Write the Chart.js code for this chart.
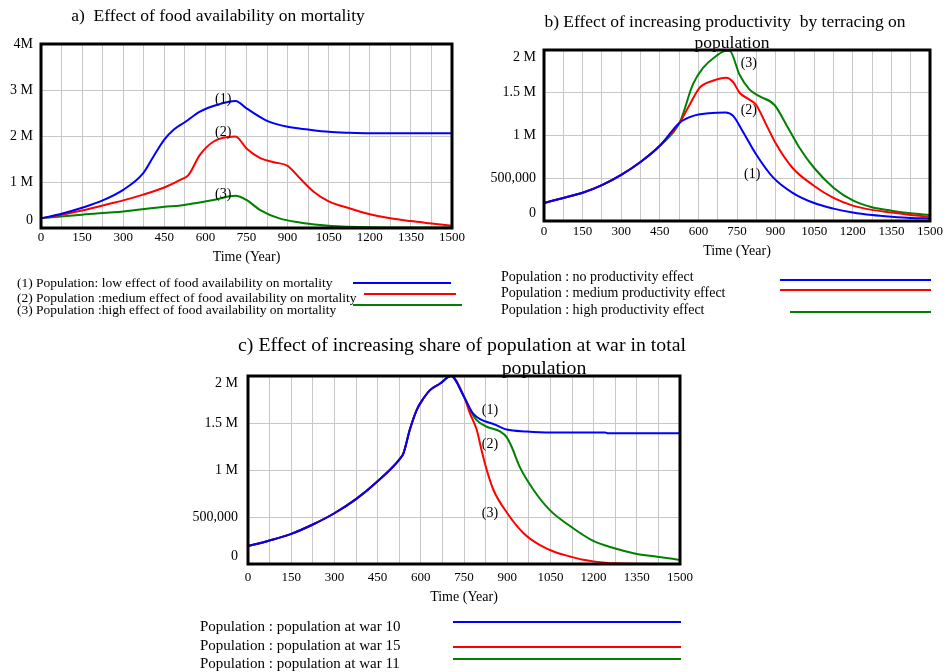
<!DOCTYPE html>
<html>
<head>
<meta charset="utf-8">
<script src="https://cdn.jsdelivr.net/npm/chart.js@4"></script>
<style>
  body { margin: 0; background: #fff; }
  #page { position: relative; width: 946px; height: 672px; overflow: hidden; color: #000;
          font-family: "Liberation Serif", "Times New Roman", serif; }
  #page canvas { position: absolute; left: 0; top: 0; }
  .txt { position: absolute; white-space: pre; }
  .ttl { position: absolute; white-space: pre; text-align: center; width: 600px; }
  .key { position: absolute; height: 2px; }
</style>
</head>
<body>
<div id="page">
  <canvas id="chartA" width="946" height="672"></canvas>
  <canvas id="chartB" width="946" height="672"></canvas>
  <canvas id="chartC" width="946" height="672"></canvas>
</div>
<script>
// time axis: grid line every 75 years, label every 150
const timeGrid = [0, 75, 150, 225, 300, 375, 450, 525, 600, 675, 750, 825, 900, 975, 1050, 1125, 1200, 1275, 1350, 1425, 1500];
const timeLabels = [0, 150, 300, 450, 600, 750, 900, 1050, 1200, 1350, 1500];
const colors = ['#0000ff', '#ff0000', '#008000'];

// a) Effect of food availability on mortality (population, millions)
const yTicksA = [0, 1, 2, 3, 4];
const yLabelsA = ['0', '1 M', '2 M', '3 M', '4M'];
const namesA = [
  '(1) Population: low effect of food availability on mortality',
  '(2) Population :medium effect of food availability on mortality',
  '(3) Population :high effect of food availability on mortality'
];
const timeA1 = [0, 75, 150, 225, 300, 370, 410, 450, 485, 525, 580, 650, 710, 750, 825, 900, 975, 1050, 1125, 1200, 1350, 1500];
const popA1 = [0.21, 0.31, 0.44, 0.60, 0.83, 1.17, 1.55, 1.92, 2.14, 2.30, 2.53, 2.69, 2.76, 2.60, 2.33, 2.20, 2.14, 2.09, 2.07, 2.06, 2.06, 2.06];
const timeA2 = [0, 75, 150, 225, 300, 370, 450, 510, 538, 580, 630, 680, 710, 750, 800, 850, 900, 945, 995, 1050, 1125, 1200, 1275, 1350, 1425, 1500];
const popA2 = [0.21, 0.29, 0.38, 0.49, 0.60, 0.72, 0.88, 1.05, 1.15, 1.59, 1.88, 1.98, 1.99, 1.73, 1.52, 1.43, 1.35, 1.08, 0.79, 0.58, 0.43, 0.30, 0.21, 0.15, 0.10, 0.05];
const timeA3 = [0, 150, 300, 450, 510, 630, 710, 750, 800, 870, 945, 1020, 1100, 1200, 1350, 1500];
const popA3 = [0.21, 0.29, 0.36, 0.46, 0.49, 0.61, 0.70, 0.61, 0.39, 0.21, 0.12, 0.065, 0.03, 0.015, 0.01, 0.01];
const tagsA = ['(1)', '(2)', '(3)'];
const tagTimeA = [665, 665, 665];
const tagPopA = [2.80, 2.07, 0.74];

// b) Effect of increasing productivity by terracing on population
const yTicksB = [0, 0.5, 1, 1.5, 2];
const yLabelsB = ['0', '500,000', '1 M', '1.5 M', '2 M'];
const namesB = [
  'Population : no productivity effect',
  'Population : medium productivity effect',
  'Population : high productivity effect'
];
const timeB1 = [0, 75, 150, 225, 300, 375, 450, 527, 580, 640, 705, 735, 772, 824, 890, 966, 1050, 1125, 1200, 1275, 1350, 1425, 1500];
const popB1 = [0.21, 0.27, 0.33, 0.42, 0.54, 0.69, 0.88, 1.15, 1.23, 1.26, 1.27, 1.23, 1.05, 0.78, 0.51, 0.33, 0.21, 0.145, 0.10, 0.07, 0.05, 0.035, 0.03];
const timeB2 = [0, 75, 150, 225, 300, 375, 450, 527, 566, 605, 656, 708, 736, 760, 798, 824, 863, 902, 966, 1050, 1125, 1200, 1275, 1350, 1425, 1500];
const popB2 = [0.21, 0.27, 0.33, 0.42, 0.54, 0.69, 0.88, 1.15, 1.36, 1.56, 1.64, 1.675, 1.62, 1.50, 1.42, 1.36, 1.13, 0.90, 0.62, 0.41, 0.27, 0.18, 0.13, 0.10, 0.07, 0.05];
const timeB3 = [0, 75, 150, 225, 300, 375, 450, 527, 579, 618, 669, 708, 721, 760, 798, 837, 895, 941, 992, 1050, 1125, 1200, 1275, 1350, 1425, 1500];
const popB3 = [0.21, 0.27, 0.33, 0.42, 0.54, 0.69, 0.88, 1.15, 1.60, 1.79, 1.93, 1.99, 1.99, 1.71, 1.54, 1.46, 1.36, 1.13, 0.86, 0.62, 0.39, 0.24, 0.16, 0.12, 0.09, 0.07];
const tagsB = ['(1)', '(2)', '(3)'];
const tagTimeB = [809, 796, 796];
const tagPopB = [0.55, 1.29, 1.84];

// c) Effect of increasing share of population at war in total population
const yTicksC = [0, 0.5, 1, 1.5, 2];
const yLabelsC = ['0', '500,000', '1 M', '1.5 M', '2 M'];
const namesC = [
  'Population : population at war 10',
  'Population : population at war 15',
  'Population : population at war 11'
];
const timeC10 = [0, 75, 150, 225, 300, 375, 450, 530, 540, 562, 586, 609, 632, 667, 705, 750, 782, 860, 898, 968, 1050, 1240, 1250, 1500];
const popC10 = [0.19, 0.25, 0.32, 0.42, 0.54, 0.69, 0.88, 1.13, 1.18, 1.43, 1.64, 1.76, 1.85, 1.92, 2.0, 1.78, 1.60, 1.48, 1.43, 1.41, 1.40, 1.40, 1.39, 1.39];
const timeC15 = [0, 75, 150, 225, 300, 375, 450, 530, 540, 562, 586, 609, 632, 667, 705, 750, 771, 794, 811, 829, 852, 898, 956, 1014, 1072, 1118, 1164, 1199, 1272, 1500];
const popC15 = [0.19, 0.25, 0.32, 0.42, 0.54, 0.69, 0.88, 1.13, 1.18, 1.43, 1.64, 1.76, 1.85, 1.92, 2.0, 1.78, 1.60, 1.43, 1.21, 1.00, 0.79, 0.55, 0.33, 0.20, 0.12, 0.08, 0.045, 0.028, 0.007, 0.0];
const timeC11 = [0, 75, 150, 225, 300, 375, 450, 530, 540, 562, 586, 609, 632, 667, 705, 750, 771, 794, 829, 875, 898, 915, 944, 991, 1049, 1120, 1199, 1272, 1346, 1421, 1500];
const popC11 = [0.19, 0.25, 0.32, 0.42, 0.54, 0.69, 0.88, 1.13, 1.18, 1.43, 1.64, 1.76, 1.85, 1.92, 2.0, 1.78, 1.64, 1.53, 1.46, 1.41, 1.35, 1.25, 1.03, 0.79, 0.57, 0.40, 0.245, 0.167, 0.11, 0.078, 0.043];
const tagsC = ['(1)', '(2)', '(3)'];
const tagTimeC = [840, 840, 840];
const tagPopC = [1.64, 1.27, 0.54];

Chart.defaults.font.family = '"Liberation Serif", "Times New Roman", serif';
Chart.defaults.color = '#000';

function series(times, values) {
  return times.map((t, i) => ({ x: t, y: values[i] }));
}

function lineSet(label, times, values, color) {
  return {
    label: label,
    data: series(times, values),
    borderColor: color,
    borderWidth: 2,
    pointRadius: 0,
    fill: false,
    cubicInterpolationMode: 'monotone'
  };
}

// thick black box round the plot area
const framePlugin = {
  id: 'frame',
  afterDraw(chart) {
    const { ctx, chartArea: a } = chart;
    ctx.save();
    ctx.lineWidth = 3;
    ctx.strokeStyle = '#000';
    ctx.strokeRect(a.left, a.top, a.right - a.left, a.bottom - a.top);
    ctx.restore();
  }
};

// (1) (2) (3) labels next to the curves
function tagPlugin(tags, times, pops) {
  return {
    id: 'tags',
    afterDatasetsDraw(chart) {
      const { ctx, scales: { x, y } } = chart;
      ctx.save();
      ctx.font = '14px "Liberation Serif", serif';
      ctx.fillStyle = '#000';
      ctx.textAlign = 'center';
      ctx.textBaseline = 'middle';
      tags.forEach((t, i) => ctx.fillText(t, x.getPixelForValue(times[i]), y.getPixelForValue(pops[i])));
      ctx.restore();
    }
  };
}

// the end labels of the value axis sit half a line inside the box
function yLabel(labels, shift, i) {
  if (shift[i] < 0) return [labels[i], ''];
  if (shift[i] > 0) return ['', labels[i]];
  return labels[i];
}

function makeChart(id, p) {
  return new Chart(document.getElementById(id), {
    type: 'line',
    data: { datasets: p.datasets },
    options: {
      responsive: false,
      animation: false,
      events: [],
      layout: { padding: p.padding },
      plugins: { legend: { display: false }, tooltip: { enabled: false } },
      scales: {
        x: {
          type: 'linear',
          min: 0,
          max: 1500,
          afterBuildTicks: (scale) => { scale.ticks = timeGrid.map(v => ({ value: v })); },
          afterFit: (scale) => { scale.height = p.xHeight; },
          ticks: {
            autoSkip: false,
            maxRotation: 0,
            padding: p.xPad,
            font: { size: 13 },
            callback: (v) => timeLabels.includes(v) ? String(v) : ''
          },
          grid: { color: '#c8c8c8', lineWidth: 1, drawTicks: false },
          border: { display: false },
          title: { display: true, text: 'Time (Year)', font: { size: 14 }, padding: 0 }
        },
        y: {
          min: 0,
          max: p.yMax,
          afterBuildTicks: (scale) => { scale.ticks = p.yTicks.map(v => ({ value: v })); },
          afterFit: (scale) => { scale.width = p.yWidth; },
          ticks: {
            padding: p.yPad,
            font: { size: 14, lineHeight: 1.1 },
            callback: (v, i) => yLabel(p.yLabels, p.yShift, i)
          },
          grid: { color: '#c8c8c8', lineWidth: 1, drawTicks: false },
          border: { display: false }
        }
      }
    },
    plugins: [framePlugin, tagPlugin(p.tags, p.tagTimes, p.tagPops)]
  });
}

makeChart('chartA', {
  datasets: [
    lineSet(namesA[0], timeA1, popA1, colors[0]),
    lineSet(namesA[1], timeA2, popA2, colors[1]),
    lineSet(namesA[2], timeA3, popA3, colors[2])
  ],
  padding: { left: 0, right: 494, top: 44, bottom: 406 },
  xHeight: 38, xPad: 2,
  yWidth: 41, yPad: 8, yMax: 4, yTicks: yTicksA, yLabels: yLabelsA, yShift: [-1, 0, 0, 0, 0],
  tags: tagsA, tagTimes: tagTimeA, tagPops: tagPopA
});

makeChart('chartB', {
  datasets: [
    lineSet(namesB[0], timeB1, popB1, colors[0]),
    lineSet(namesB[1], timeB2, popB2, colors[1]),
    lineSet(namesB[2], timeB3, popB3, colors[2])
  ],
  padding: { left: 484, right: 15, top: 50, bottom: 412 },
  xHeight: 39, xPad: 3,
  yWidth: 60, yPad: 8, yMax: 2, yTicks: yTicksB, yLabels: yLabelsB, yShift: [-1, 0, 0, 0, 1],
  tags: tagsB, tagTimes: tagTimeB, tagPops: tagPopB
});

makeChart('chartC', {
  datasets: [
    lineSet(namesC[0], timeC10, popC10, colors[0]),
    lineSet(namesC[1], timeC15, popC15, colors[1]),
    lineSet(namesC[2], timeC11, popC11, colors[2])
  ],
  padding: { left: 188, right: 266, top: 376, bottom: 66 },
  xHeight: 42, xPad: 6,
  yWidth: 60, yPad: 10, yMax: 2, yTicks: yTicksC, yLabels: yLabelsC, yShift: [-1, 0, 0, 0, 1],
  tags: tagsC, tagTimes: tagTimeC, tagPops: tagPopC
});

// titles and legends as page text
const page = document.getElementById('page');

function addTitle(text, cx, cy, size) {
  const d = document.createElement('div');
  d.className = 'ttl';
  d.textContent = text;
  d.style.fontSize = size + 'px';
  d.style.lineHeight = (size + 4) + 'px';
  d.style.left = (cx - 300) + 'px';
  d.style.top = (cy - (size + 4) / 2) + 'px';
  page.appendChild(d);
}

function addLegend(names, cols, box) {
  names.forEach((name, i) => {
    const t = document.createElement('div');
    t.className = 'txt';
    t.textContent = name;
    t.style.fontSize = box.size + 'px';
    t.style.lineHeight = box.size + 'px';
    t.style.left = box.textX + 'px';
    t.style.top = (box.textY[i] - box.size / 2) + 'px';
    page.appendChild(t);
    const k = document.createElement('div');
    k.className = 'key';
    k.style.background = cols[i];
    k.style.left = box.keyX0[i] + 'px';
    k.style.width = (box.keyX1[i] - box.keyX0[i]) + 'px';
    k.style.top = (box.keyY[i] - 1) + 'px';
    page.appendChild(k);
  });
}

addTitle('a)  Effect of food availability on mortality', 218, 16, 17.5);
addTitle('b) Effect of increasing productivity  by terracing on', 725, 22, 17.5);
addTitle('population', 732, 43, 17.5);
addTitle('c) Effect of increasing share of population at war in total', 462, 345, 19.8);
addTitle('population', 544, 368, 19.8);

addLegend(namesA, colors, {
  size: 13.5, textX: 17, textY: [283, 298, 310],
  keyX0: [353, 364, 353], keyX1: [451, 456, 462], keyY: [283, 294, 305]
});
addLegend(namesB, colors, {
  size: 14, textX: 501, textY: [277, 293, 310],
  keyX0: [780, 780, 790], keyX1: [931, 931, 931], keyY: [280, 290, 312]
});
addLegend(namesC, colors, {
  size: 15, textX: 200, textY: [626, 645, 663],
  keyX0: [453, 453, 453], keyX1: [681, 681, 681], keyY: [622, 647, 659]
});
</script>
</body>
</html>
